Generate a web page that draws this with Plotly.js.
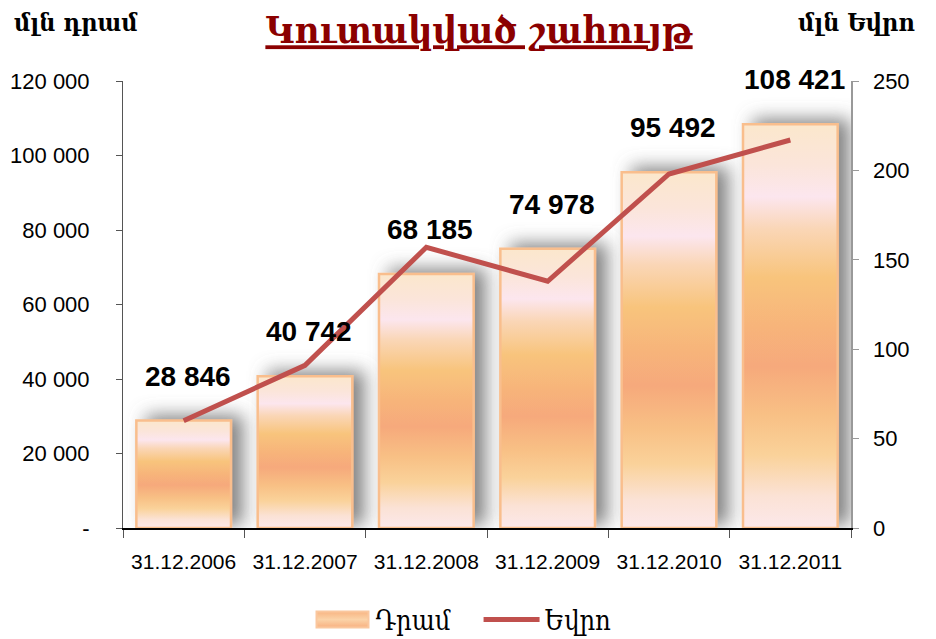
<!DOCTYPE html>
<html>
<head>
<meta charset="utf-8">
<script src="https://cdn.plot.ly/plotly-3.0.1.min.js"></script>
<style>html,body{margin:0;padding:0;background:#fff;}#chart{width:936px;height:639px;}</style>
</head>
<body>
<div id="chart"></div>
<script>
const categories = ["31.12.2006","31.12.2007","31.12.2008","31.12.2009","31.12.2010","31.12.2011"];
const dramValues = [28846, 40742, 68185, 74978, 95492, 108421];
const euroValues = [60, 91, 157, 138, 198, 217];
const dramLabels = ["28 846","40 742","68 185","74 978","95 492","108 421"];
const leftTickVals = [0, 20000, 40000, 60000, 80000, 100000, 120000];
const leftTickText = ["-", "20 000", "40 000", "60 000", "80 000", "100 000", "120 000"];
const rightTickVals = [0, 50, 100, 150, 200, 250];

const armFont = "'DejaVu Serif Condensed', 'DejaVu Serif', serif";
const latFont = "'Liberation Sans', Arial, sans-serif";
const NB = '\u00A0';

const traces = [
  {
    type: 'bar', name: 'Դրամ' + NB + NB + NB, x: categories, y: dramValues,
    marker: {color: '#F8B98A', line: {color: '#F9BE8D', width: 2.5}},
    width: 0.78, yaxis: 'y', hoverinfo: 'none'
  },
  {
    type: 'scatter', mode: 'lines', name: 'Եվրո', x: categories, y: euroValues,
    line: {color: '#C0504D', width: 5}, yaxis: 'y2', hoverinfo: 'none'
  }
];

const annotations = categories.map((c, i) => ({
  x: c, y: dramValues[i], xref: 'x', yref: 'y', text: '<b>' + dramLabels[i] + '</b>',
  showarrow: false, yanchor: 'bottom', yshift: 27, xshift: 4,
  font: {family: latFont, size: 28, color: '#000'}
}));
annotations.push({
  xref: 'paper', yref: 'paper', x: (76-123)/728, y: 1 + (81-22)/447, text: '<b>մլն դրամ</b>',
  showarrow: false, xanchor: 'center', yanchor: 'middle',
  font: {family: armFont, size: 25, color: '#000'}
});
annotations.push({
  xref: 'paper', yref: 'paper', x: (856-123)/728, y: 1 + (81-22)/447, text: '<b>մլն Եվրո</b>',
  showarrow: false, xanchor: 'center', yanchor: 'middle',
  font: {family: armFont, size: 25, color: '#000'}
});

const layout = {
  width: 936, height: 639,
  margin: {l: 123, r: 85, t: 81, b: 111, autoexpand: false},
  paper_bgcolor: '#fff', plot_bgcolor: '#fff',
  showlegend: true,
  title: {
    text: '<b><u>Կուտակված շահույթ</u></b>', xref: 'paper', x: (479-123)/728, xanchor: 'center',
    yref: 'container', y: 1 - 30/639, yanchor: 'middle',
    font: {family: armFont, size: 38, color: '#8B0000'}
  },
  xaxis: {
    type: 'category', tickson: 'boundaries', ticks: 'outside', ticklen: 8, tickcolor: '#555',
    showline: true, linecolor: '#000', linewidth: 1.5, showgrid: false, zeroline: false,
    automargin: false,
    tickfont: {family: latFont, size: 21, color: '#000'}, ticklabelstandoff: 14
  },
  yaxis: {
    range: [0, 120000], tickvals: leftTickVals, ticktext: leftTickText, automargin: false,
    ticks: 'outside', ticklen: 6, tickcolor: '#555', showline: true, linecolor: '#555', linewidth: 1,
    showgrid: false, zeroline: false, ticklabelstandoff: 22,
    tickfont: {family: latFont, size: 22, color: '#000'}
  },
  yaxis2: {
    range: [0, 250], tickvals: rightTickVals, overlaying: 'y', side: 'right', automargin: false,
    ticks: 'outside', ticklen: 6, tickcolor: '#999', showline: true, linecolor: '#999', linewidth: 1.5,
    showgrid: false, zeroline: false, ticklabelstandoff: 10,
    tickfont: {family: latFont, size: 22, color: '#000'}
  },
  legend: {
    orientation: 'h', xref: 'container', x: 463/936, xanchor: 'center',
    yref: 'container', y: 1 - 620/639, yanchor: 'middle',
    font: {family: armFont, size: 27, color: '#000'}, itemwidth: 56
  },
  annotations: annotations
};

Plotly.newPlot('chart', traces, layout, {displayModeBar: false, staticPlot: true}).then(() => {
  const svg = document.querySelector('#chart .main-svg');
  const ns = 'http://www.w3.org/2000/svg';
  let defs = svg.querySelector('defs');
  if (!defs) { defs = document.createElementNS(ns, 'defs'); svg.insertBefore(defs, svg.firstChild); }
  function mkGrad(id, stops) {
    const g = document.createElementNS(ns, 'linearGradient');
    g.setAttribute('id', id);
    g.setAttribute('x1', '0'); g.setAttribute('y1', '0');
    g.setAttribute('x2', '0'); g.setAttribute('y2', '1');
    stops.forEach(([o,c]) => {
      const s = document.createElementNS(ns, 'stop');
      s.setAttribute('offset', o); s.setAttribute('stop-color', c);
      g.appendChild(s);
    });
    defs.appendChild(g);
  }
  mkGrad('barGrad', [[0,'#FBE7CC'],[0.1,'#FBE5DA'],[0.18,'#FCE6EE'],[0.26,'#FAD6B6'],[0.38,'#F8C47C'],[0.5,'#F7B47A'],[0.6,'#F6A97B'],[0.72,'#F8C085'],[0.82,'#FAD29A'],[0.92,'#FBE2D5'],[1,'#FCE8EA']]);
  mkGrad('legGrad', [[0,'#F8B583'],[0.5,'#FBD3A8'],[1,'#F8B080']]);
  const filt = document.createElementNS(ns, 'filter');
  filt.setAttribute('id', 'barShadow');
  filt.setAttribute('x', '-30%'); filt.setAttribute('y', '-30%');
  filt.setAttribute('width', '170%'); filt.setAttribute('height', '140%');
  const ds = document.createElementNS(ns, 'feDropShadow');
  ds.setAttribute('dx', '11'); ds.setAttribute('dy', '-4');
  ds.setAttribute('stdDeviation', '9'); ds.setAttribute('flood-color', '#6e6e6e');
  ds.setAttribute('flood-opacity', '0.85');
  filt.appendChild(ds);
  defs.appendChild(filt);
  document.querySelectorAll('#chart .barlayer .point path').forEach(p => {
    p.style.fill = 'url(#barGrad)';
    p.style.filter = 'url(#barShadow)';
  });
  const legTraces = document.querySelectorAll('#chart .legend .traces');
  if (legTraces.length) {
    const barPts = legTraces[0].querySelectorAll('.legendpoints path');
    barPts.forEach(p => {
      p.setAttribute('d', 'M-26,-8H26V8H-26Z');
      p.style.fill = 'url(#legGrad)';
      p.style.stroke = '#FAC79E';
      p.style.strokeWidth = '2px';
    });
  }
});
</script>
</body>
</html>
